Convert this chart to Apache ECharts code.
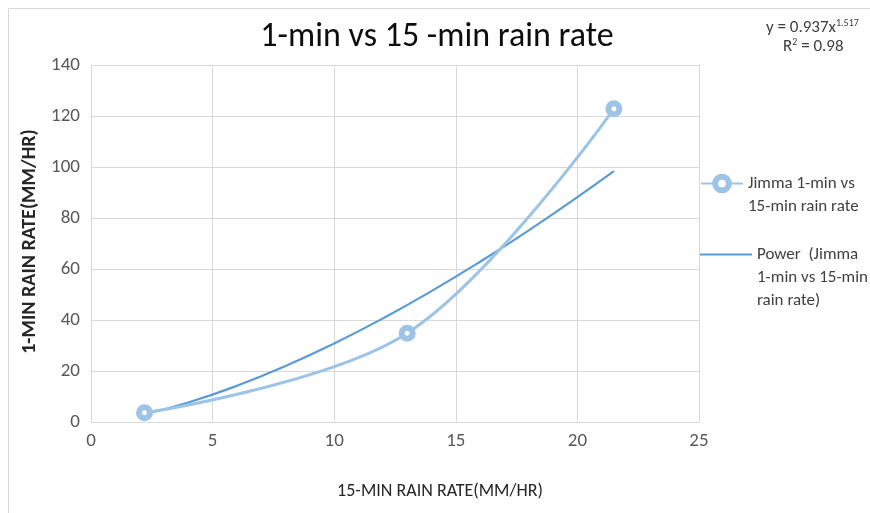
<!DOCTYPE html>
<html>
<head>
<meta charset="utf-8">
<script src="https://cdn.jsdelivr.net/npm/echarts@6/dist/echarts.min.js"></script>
<style>
  html, body { margin: 0; padding: 0; background: #fff; }
  #chart { width: 870px; height: 513px; }
</style>
</head>
<body>
<div id="chart"></div>
<script>
// Observed 15-min vs 1-min rain rate pairs (mm/hr)
const rate15 = [2.2, 13.0, 21.5];
const rate1 = [3.6, 34.8, 122.8];

// Power trend line y = 0.937x^1.517, sampled along the data range
const trendX = [2.2, 4, 6, 8, 10, 12, 14, 16, 18, 20, 21.5];
const trendY = [3.10, 7.67, 14.20, 21.96, 30.82, 40.62, 51.33, 62.86, 75.16, 88.22, 98.42];

const xTicks = [0, 5, 10, 15, 20, 25];
const yTicks = [0, 20, 40, 60, 80, 100, 120, 140];

const seriesName = 'Jimma 1-min vs\n15-min rain rate';
const trendName = 'Power  (Jimma\n1-min vs 15-min\nrain rate)';

const font = 'Calibri, Carlito, "Liberation Sans", sans-serif';
const legendLine = 23;

// Pad a multi-line legend label with leading blank lines so that its
// first line sits level with the legend icon.
function topAligned(name) {
  const lines = name.split('\n').length;
  return '\n'.repeat(lines - 1) + name;
}

const chart = echarts.init(document.getElementById('chart'));
chart.setOption({
  animation: false,
  backgroundColor: '#ffffff',
  textStyle: { fontFamily: font },
  title: {
    text: '1-min vs 15 -min rain rate',
    left: 432,
    textAlign: 'center',
    top: 15,
    textStyle: { fontSize: 34, fontWeight: 'normal', color: '#0d0d0d', fontFamily: font }
  },
  grid: { left: 91, right: 171, top: 65, bottom: 91, containLabel: false },
  xAxis: {
    type: 'value',
    min: xTicks[0],
    max: xTicks[xTicks.length - 1],
    interval: 5,
    name: '15-MIN RAIN RATE(MM/HR)',
    nameLocation: 'middle',
    nameGap: 60,
    nameTextStyle: { fontSize: 18, color: '#262626', fontFamily: font, padding: [0, 0, 0, 90] },
    axisLine: { lineStyle: { color: '#d9d9d9' } },
    axisTick: { show: false },
    axisLabel: { fontSize: 19, color: '#595959', margin: 10 },
    splitLine: { show: true, lineStyle: { color: '#d9d9d9', width: 1 } }
  },
  yAxis: {
    type: 'value',
    min: yTicks[0],
    max: yTicks[yTicks.length - 1],
    interval: 20,
    name: '1-MIN RAIN RATE(MM/HR)',
    nameLocation: 'middle',
    nameGap: 51,
    nameRotate: 90,
    nameTextStyle: { fontSize: 20, fontWeight: 'bold', color: '#262626', fontFamily: font, padding: [0, 0, 0, 4] },
    axisLine: { show: true, lineStyle: { color: '#d9d9d9' } },
    axisTick: { show: false },
    axisLabel: { fontSize: 19, color: '#595959', margin: 11 },
    splitLine: { show: true, lineStyle: { color: '#d9d9d9', width: 1 } }
  },
  legend: [
    {
      orient: 'vertical',
      left: 695,
      top: 144,
      itemWidth: 42,
      itemHeight: 17,
      formatter: topAligned,
      textStyle: { fontSize: 17, color: '#404040', lineHeight: legendLine, fontFamily: font },
      data: [{ name: seriesName, itemStyle: { borderWidth: 6, color: '#ffffff', borderColor: '#9dc3e6' } }]
    },
    {
      orient: 'vertical',
      left: 695,
      top: 192,
      itemWidth: 52,
      itemHeight: 14,
      formatter: topAligned,
      textStyle: { fontSize: 17, color: '#404040', lineHeight: legendLine, fontFamily: font },
      data: [{ name: trendName, icon: 'path://M0,0 L52,0 L52,2 L0,2 Z' }]
    }
  ],
  series: [
    {
      name: seriesName,
      type: 'line',
      smooth: 0.35,
      data: rate15.map((x, i) => [x, rate1[i]]),
      symbol: 'circle',
      symbolSize: 11,
      showSymbol: true,
      lineStyle: { color: '#9dc3e6', width: 3 },
      itemStyle: { color: '#ffffff', borderColor: '#9dc3e6', borderWidth: 6 },
      z: 3
    },
    {
      name: trendName,
      type: 'line',
      smooth: true,
      data: trendX.map((x, i) => [x, trendY[i]]),
      symbol: 'none',
      lineStyle: { color: '#5b9bd5', width: 2.2 },
      itemStyle: { color: '#5b9bd5' },
      z: 2
    }
  ],
  graphic: [
    {
      type: 'rect',
      shape: { x: 8.5, y: 8.5, width: 900, height: 600 },
      style: { fill: 'none', stroke: '#d9d9d9', lineWidth: 1 },
      silent: true
    },
    {
      type: 'text',
      left: 766,
      top: 18,
      style: {
        text: '{b|y = 0.937x}{s|1.517}',
        rich: {
          b: { fontSize: 17, fill: '#404040', fontFamily: font },
          s: { fontSize: 10, fill: '#404040', fontFamily: font, padding: [0, 0, 9, 0] }
        }
      }
    },
    {
      type: 'text',
      left: 783,
      top: 37,
      style: {
        text: '{b|R}{s|2}{b| = 0.98}',
        rich: {
          b: { fontSize: 17, fill: '#404040', fontFamily: font },
          s: { fontSize: 10, fill: '#404040', fontFamily: font, padding: [0, 0, 9, 0] }
        }
      }
    }
  ]
});
</script>
</body>
</html>
